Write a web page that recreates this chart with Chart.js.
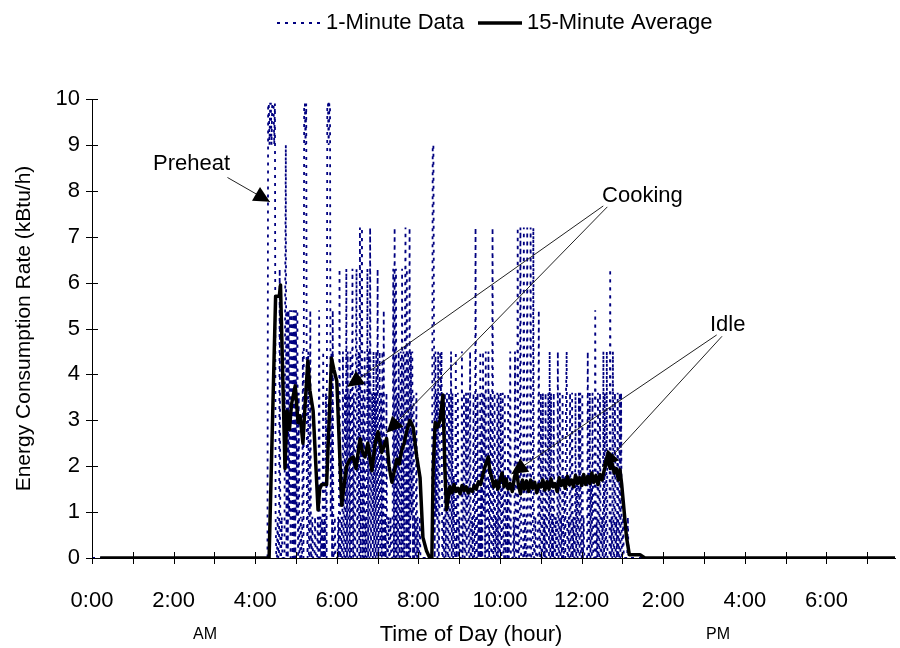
<!DOCTYPE html>
<html>
<head>
<meta charset="utf-8">
<script src="https://cdn.jsdelivr.net/npm/chart.js@4.4.0/dist/chart.umd.min.js"></script>
<style>
  html, body { margin: 0; padding: 0; background: #fff; }
  #wrap { width: 900px; height: 648px; }
</style>
</head>
<body>
<div id="wrap"><canvas id="myChart"></canvas></div>
<script>
// 1-minute gas rate (kBtu/h), one value per minute from minuteStart on
const minuteStart = 258;
const oneMinuteRate = [
  0, 9.9, 9.9, 9.0, 9.9, 9.9, 9.0, 9.9, 9.9, 9.9, 9.0, 9.9, 0.9, 0, 0, 0.9, 0, 0, 6.3, 0,
  0, 0.9, 0, 0, 0, 0, 5.4, 9.0, 0, 5.4, 0, 5.4, 0.9, 5.4, 0, 5.4, 4.5, 0, 5.4, 0,
  5.4, 0, 5.4, 0.9, 5.4, 0, 3.6, 0, 0, 0.9, 0, 0, 4.5, 0, 9.9, 9.9, 9.0, 9.9, 0.9, 0,
  4.5, 0, 0, 5.4, 0, 0, 0.9, 0, 0, 0, 0.9, 0, 0, 0, 0.9, 0, 5.4, 0, 0.9, 0,
  0.9, 0, 4.5, 0, 0.9, 0, 3.6, 0, 9.9, 9.9, 9.0, 9.9, 9.9, 0.9, 4.5, 0, 5.4, 0, 0, 0.9,
  0, 0, 0, 0, 0.9, 0, 6.3, 0, 0, 0.9, 0, 4.5, 0, 0, 3.6, 0, 6.3, 0, 4.5, 0,
  3.6, 0, 4.5, 0, 0.9, 6.3, 0, 3.6, 0, 0, 4.5, 6.3, 0, 0.9, 4.5, 0, 7.2, 0, 4.5, 7.2,
  0, 3.6, 0, 4.5, 0, 0.9, 0, 6.3, 0, 4.5, 0, 7.2, 0, 0.9, 3.6, 0, 4.5, 0, 3.6, 0,
  4.5, 0, 6.3, 0, 0.9, 4.5, 0, 3.6, 0, 4.5, 0, 5.4, 0, 0.9, 0, 3.6, 0, 0, 0.9, 0,
  0, 0.9, 0, 0, 0, 6.3, 0, 7.2, 0, 6.3, 0, 3.6, 0, 4.5, 0, 0.9, 4.5, 0, 6.3, 0,
  4.5, 0, 4.5, 7.2, 0, 6.3, 0, 4.5, 0, 7.2, 0, 4.5, 0.9, 4.5, 0, 3.6, 0, 0.9, 0, 3.6,
  0, 0.9, 0, 0, 0.9, 0, 0, 0, 0, 0, 0, 0, 0, 0, 0, 0, 0, 0, 0, 0,
  0, 0, 0, 9.0, 9.0, 4.5, 0, 4.5, 0.9, 3.6, 0, 4.5, 0, 0.9, 4.5, 3.6, 4.5, 0, 0, 0.9,
  0, 3.6, 0, 0.9, 3.6, 0, 0, 3.6, 0, 0.9, 4.5, 0, 3.6, 0, 1.8, 0, 0, 4.5, 0, 0.9,
  3.6, 0, 0.9, 0, 0, 0, 4.5, 0, 0.9, 3.6, 0, 0, 3.6, 0, 1.8, 3.6, 0, 0, 4.5, 0,
  0, 0.9, 0, 3.6, 0, 0, 7.2, 0, 0, 3.6, 0, 0.9, 0, 4.5, 0, 3.6, 0, 4.5, 0.9, 3.6,
  0, 4.5, 0, 0, 0, 4.5, 0, 0.9, 3.6, 0, 0, 7.2, 0, 0, 3.6, 0, 0.9, 0, 3.6, 0,
  3.6, 0, 0, 3.6, 0, 0.9, 3.6, 0, 0, 3.6, 0, 0.9, 1.8, 0, 3.6, 0, 0.9, 4.5, 0, 0,
  0, 0, 0.9, 0, 4.5, 0, 0, 0, 7.2, 0, 0, 0.9, 7.2, 0, 0, 0, 0, 7.2, 0, 0.9,
  0, 0, 7.2, 0, 0, 0, 0, 7.2, 0, 0, 0, 7.2, 0, 0, 0.9, 0, 0, 0, 0.9, 5.4,
  0, 0, 3.6, 0, 0, 3.6, 0, 0.9, 0, 3.6, 0, 0, 1.8, 3.6, 0, 4.5, 0, 3.6, 0, 0.9,
  0, 3.6, 0, 0, 0.9, 0, 0, 4.5, 0, 0, 3.6, 0, 0.9, 0, 3.6, 0, 0, 1.8, 0, 3.6,
  4.5, 0, 0, 0.9, 0, 3.6, 0, 0, 3.6, 0, 0.9, 0, 0, 3.6, 0, 1.8, 0, 0, 3.6, 0,
  3.6, 0, 0, 3.6, 0, 0.9, 0, 0, 0, 0, 0, 4.5, 0, 0, 3.6, 0, 1.8, 0, 3.6, 0,
  0, 0, 5.4, 0, 0.9, 0, 3.6, 0, 0, 3.6, 0, 0, 0.9, 0, 4.5, 0, 3.6, 0, 0, 4.5,
  0, 0, 0, 0, 6.3, 0, 0.9, 0, 4.5, 0, 0, 3.6, 0, 0.9, 0, 3.6, 0, 0, 3.6, 0,
  3.6, 0, 0, 0.9, 0, 0, 0, 0, 0, 0, 0.9, 0, 0, 0, 0, 0, 0, 0, 0, 0,
];
const dayEnd = 19.68; // hours shown on the axis

// 15-minute average (hour of day, kBtu/h)
const avgHours = [
  0.2, 4.34, 4.5, 4.59, 4.62, 4.73, 4.78, 4.84, 4.89, 4.98, 5.05, 5.1, 5.17, 5.22, 5.29, 5.34, 5.42,
  5.54, 5.58, 5.63, 5.75, 5.87, 5.93, 6.0, 6.12, 6.18, 6.24, 6.32, 6.4, 6.47, 6.57, 6.63, 6.69, 6.76,
  6.86, 6.94, 7.01, 7.1, 7.16, 7.22, 7.28, 7.35, 7.41, 7.47, 7.53, 7.59, 7.65, 7.71, 7.79, 7.87, 7.96,
  8.04, 8.11, 8.2, 8.28, 8.33, 8.36, 8.41, 8.47, 8.53, 8.6, 8.65, 8.69, 8.77,
  8.82, 8.87, 8.92, 8.97, 9.02, 9.07, 9.12, 9.17, 9.22, 9.27, 9.32, 9.37, 9.42, 9.47, 9.52, 9.57, 9.62,
  9.67, 9.71, 9.75, 9.8, 9.85, 9.9, 9.95, 10.0, 10.05, 10.1, 10.15, 10.2, 10.25, 10.3, 10.35, 10.4,
  10.45, 10.5, 10.55, 10.6, 10.65, 10.7, 10.75, 10.8, 10.85, 10.9, 10.95, 11.0, 11.05, 11.1, 11.15,
  11.2, 11.25, 11.3, 11.35, 11.4, 11.45, 11.5, 11.55, 11.6, 11.65, 11.7, 11.75, 11.8, 11.85, 11.9,
  11.95, 12.0, 12.05, 12.1, 12.15, 12.2, 12.25, 12.3, 12.35, 12.4, 12.45, 12.5, 12.55, 12.6, 12.65,
  12.7, 12.75, 12.8, 12.85, 12.9, 12.94, 12.98, 13.1, 13.17, 13.43, 13.55, 19.68,
];
const avgRate = [
  0, 0, 5.7, 5.7, 5.95, 1.95, 3.2, 2.8, 3.35, 3.75, 2.95, 3.1, 2.5, 3.3, 4.3, 3.65, 3.2,
  1.05, 1.5, 1.6, 1.6, 4.35, 4.1, 3.85, 1.15, 1.6, 2.0, 2.15, 2.2, 1.95, 2.6, 2.3, 2.2, 2.5,
  1.9, 2.5, 2.75, 2.3, 2.45, 2.6, 2.0, 1.65, 1.9, 2.15, 2.05, 2.35, 2.5, 2.75, 3.0, 2.85, 2.2,
  1.75, 0.45, 0.15, 0, 0, 1.9, 2.95, 2.85, 3.0, 3.55, 1.9, 1.05, 1.55,
  1.42, 1.6, 1.45, 1.52, 1.4, 1.58, 1.47, 1.55, 1.42, 1.5, 1.45, 1.58, 1.5, 1.66, 1.6, 1.78, 1.95,
  2.1, 2.2, 1.9, 1.75, 1.55, 1.68, 1.5, 1.7, 1.85, 1.55, 1.72, 1.5, 1.62, 1.45, 1.75, 1.92,
  1.6, 1.4, 1.7, 1.5, 1.68, 1.45, 1.7, 1.52, 1.65, 1.42, 1.6, 1.55, 1.7, 1.48, 1.66,
  1.5, 1.72, 1.55, 1.62, 1.45, 1.75, 1.58, 1.7, 1.52, 1.78, 1.6, 1.7, 1.55, 1.8, 1.62,
  1.75, 1.58, 1.82, 1.6, 1.78, 1.62, 1.85, 1.65, 1.8, 1.6, 1.82, 1.7, 1.9, 2.05, 2.12,
  1.95, 2.05, 1.85, 1.95, 1.7, 1.92, 1.62, 0.45, 0.07, 0.07, 0, 0,
];

// annotation text and leader lines, in data units (hours, kBtu/h)
const noteLabels = ["Preheat", "Cooking", "Idle"];
const notePos = [[2.44, 8.58], [13.49, 7.89], [15.58, 5.08]];
const noteArrows = [
  [3.32, 8.29, 4.36, 7.76],
  [12.53, 7.67, 6.26, 3.73],
  [12.63, 7.65, 7.22, 2.73],
  [15.31, 4.86, 10.28, 1.83],
  [15.44, 4.83, 12.51, 1.99],
];

const FONT = "'Liberation Sans', Arial, sans-serif";

const minutePoints = [{ x: 0, y: 0 }]
  .concat(oneMinuteRate.map((v, i) => ({ x: (minuteStart + i) / 60, y: v })))
  .concat([{ x: dayEnd, y: 0 }]);
const avgPoints = avgHours.map((h, i) => ({ x: h, y: avgRate[i] }));

const extras = {
  id: "extras",
  afterDatasetsDraw(chart) {
    const { ctx, scales: { x, y } } = chart;
    const line = (x1, y1, x2, y2) => {
      ctx.beginPath();
      ctx.moveTo(x1, y1);
      ctx.lineTo(x2, y2);
      ctx.stroke();
    };
    ctx.save();

    // tick marks crossing the axes
    ctx.strokeStyle = "#000";
    ctx.lineWidth = 1;
    x.ticks.forEach((t) => {
      const px = Math.round(x.getPixelForValue(t.value)) + 0.5;
      line(px, y.bottom - 6, px, y.bottom + 6);
    });
    y.ticks.forEach((t) => {
      const py = Math.round(y.getPixelForValue(t.value)) + 0.5;
      line(x.left - 6, py, x.left + 6, py);
    });

    // annotations
    ctx.strokeStyle = "#222";
    ctx.fillStyle = "#000";
    noteArrows.forEach(([h1, v1, h2, v2]) => {
      const x1 = x.getPixelForValue(h1), y1 = y.getPixelForValue(v1);
      const x2 = x.getPixelForValue(h2), y2 = y.getPixelForValue(v2);
      line(x1, y1, x2, y2);
      const a = Math.atan2(y2 - y1, x2 - x1);
      const bx = x2 - 16 * Math.cos(a), by = y2 - 16 * Math.sin(a);
      ctx.beginPath();
      ctx.moveTo(x2, y2);
      ctx.lineTo(bx + 8 * Math.sin(a), by - 8 * Math.cos(a));
      ctx.lineTo(bx - 8 * Math.sin(a), by + 8 * Math.cos(a));
      ctx.closePath();
      ctx.fill();
    });
    ctx.font = "22px " + FONT;
    ctx.textAlign = "center";
    ctx.textBaseline = "middle";
    noteLabels.forEach((txt, i) => {
      ctx.fillText(txt, x.getPixelForValue(notePos[i][0]), y.getPixelForValue(notePos[i][1]));
    });

    // axis titles
    ctx.fillText("Time of Day (hour)", 471, 635);
    ctx.save();
    ctx.font = "21px " + FONT;
    ctx.translate(24, (y.top + y.bottom) / 2);
    ctx.rotate(-Math.PI / 2);
    ctx.fillText("Energy Consumption Rate (kBtu/h)", 0, 0);
    ctx.restore();
    ctx.font = "16px " + FONT;
    ctx.fillText("AM", 205, 635);
    ctx.fillText("PM", 718, 635);

    // legend
    ctx.font = "22px " + FONT;
    ctx.textAlign = "left";
    ctx.strokeStyle = "#000080";
    ctx.lineWidth = 2;
    ctx.setLineDash([3, 5]);
    line(277, 23, 320, 23);
    ctx.setLineDash([]);
    ctx.fillText("1-Minute Data", 326, 23);
    ctx.strokeStyle = "#000";
    ctx.lineWidth = 3.5;
    line(478, 23, 522, 23);
    ctx.fillText("15-Minute Average", 527, 23);

    ctx.restore();
  },
};

new Chart(document.getElementById("myChart"), {
  type: "line",
  data: {
    datasets: [
      {
        label: "15-Minute Average",
        data: avgPoints,
        borderColor: "#000",
        borderWidth: 3.5,
        borderJoinStyle: "round",
        pointRadius: 0,
        order: 1,
      },
      {
        label: "1-Minute Data",
        data: minutePoints,
        borderColor: "#000080",
        borderWidth: 1.8,
        borderDash: [3, 5],
        pointRadius: 0,
        order: 2,
      },
    ],
  },
  options: {
    responsive: true,
    maintainAspectRatio: false,
    animation: false,
    events: [],
    layout: { padding: { top: 99, right: 5, left: 0, bottom: 0 } },
    plugins: {
      legend: { display: false },
      tooltip: { enabled: false },
    },
    scales: {
      x: {
        type: "linear",
        min: 0,
        max: dayEnd,
        afterFit: (s) => { s.height = 90; },
        grid: { display: false, drawTicks: false },
        border: { color: "#000", width: 1 },
        ticks: {
          stepSize: 1,
          includeBounds: false,
          autoSkip: false,
          maxRotation: 0,
          padding: 30,
          color: "#000",
          font: { family: FONT, size: 22 },
          callback: (v) => (v % 2 === 0 && v <= 18 ? (v > 12 ? v - 12 : v) + ":00" : ""),
        },
      },
      y: {
        min: 0,
        max: 10,
        afterFit: (s) => { s.width = 92; },
        grid: { display: false, drawTicks: false },
        border: { color: "#000", width: 1 },
        ticks: {
          stepSize: 1,
          padding: 12,
          color: "#000",
          font: { family: FONT, size: 22 },
        },
      },
    },
  },
  plugins: [extras],
});
</script>
</body>
</html>
